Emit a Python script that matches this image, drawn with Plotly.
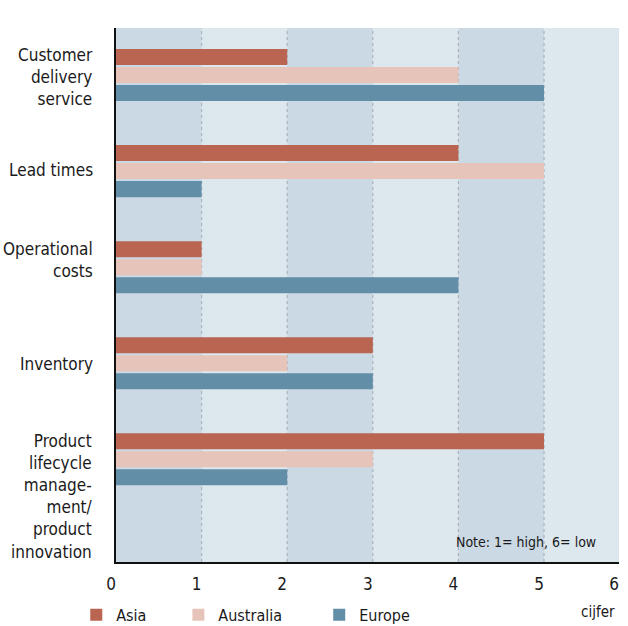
import plotly.graph_objects as go

categories = ["Customer<br>delivery<br>service", "Lead times", "Operational<br>costs",
              "Inventory", "Product<br>lifecycle<br>manage-<br>ment/<br>product<br>innovation"]
series_names = ["Asia", "Australia", "Europe"]
asia = [2, 4, 1, 3, 5]
australia = [4, 5, 1, 2, 3]
europe = [5, 1, 4, 3, 2]
tick_labels = ["0", "1", "2", "3", "4", "5", "6"]
x_max = 5.876
colors = ["#b96551", "#e7c4b9", "#628ea8"]

FONT = "DejaVu Sans Condensed, Liberation Sans Narrow, Roboto, sans-serif"

fig = go.Figure()
for i, (name, vals) in enumerate(zip(series_names, [asia, australia, europe])):
    fig.add_trace(go.Bar(
        y=categories, x=vals, orientation="h", name=name, showlegend=True,
        marker=dict(color=colors[i], line=dict(width=0)),
        legend="legend" if i == 0 else f"legend{i+1}",
    ))

shapes = []
for k in [0, 2, 4]:
    shapes.append(dict(type="rect", xref="x", yref="paper", x0=k, x1=k + 1, y0=0, y1=1,
                       fillcolor="#cbd9e4", line=dict(width=0), layer="below"))
for k in range(1, 6):
    shapes.append(dict(type="line", xref="x", yref="paper", x0=k, x1=k, y0=0, y1=1,
                       line=dict(color="#a9b3bb", width=1.2, dash="3px,3px"), layer="below"))

annotations = []
yshifts = [-2, 1, 7.5, -1, -37]
for c, ys in zip(categories, yshifts):
    annotations.append(dict(x=0, xref="paper", y=c, yref="y", xanchor="right", yanchor="middle",
                            xshift=-21, yshift=ys, text=c, showarrow=False, align="right",
                            font=dict(family=FONT, size=17, color="#1a1a1a")))
annotations.append(dict(x=0.958, xref="paper", y=0.037, yref="paper", xanchor="right", yanchor="middle",
                        text="Note: 1= high, 6= low", showarrow=False,
                        font=dict(family=FONT, size=14, color="#1a1a1a")))
annotations.append(dict(x=0.996, xref="paper", y=-0.093, yref="paper", xanchor="right", yanchor="middle",
                        text="cijfer", showarrow=False,
                        font=dict(family=FONT, size=15, color="#1a1a1a")))

leg_common = dict(orientation="h", yanchor="middle", y=-0.099, xanchor="left",
                  font=dict(family=FONT, size=16, color="#1a1a1a"), bgcolor="rgba(0,0,0,0)",
                  visible=True)

fig.update_layout(
    width=628, height=626,
    margin=dict(l=116, r=9, t=28, b=64, autoexpand=False),
    paper_bgcolor="white", plot_bgcolor="#dde7ee",
    showlegend=True,
    barmode="group", bargap=0.4375, bargroupgap=0.11,
    shapes=shapes, annotations=annotations,
    legend=dict(x=-0.079, **leg_common),
    legend2=dict(x=0.124, **leg_common),
    legend3=dict(x=0.404, **leg_common),
    xaxis=dict(range=[0, x_max], tickvals=[0, 1, 2, 3, 4, 5, x_max], ticktext=tick_labels,
               showgrid=False, zeroline=False, showline=True, linecolor="#111", linewidth=2,
               ticks="", ticklabelshift=-5, ticklabelstandoff=6,
               tickfont=dict(family=FONT, size=17, color="#1a1a1a")),
    yaxis=dict(type="category", range=[5.07, -0.49], showticklabels=False, showgrid=False,
               zeroline=False, showline=True, linecolor="#111", linewidth=2, ticks=""),
)

fig.write_html("out.html")
